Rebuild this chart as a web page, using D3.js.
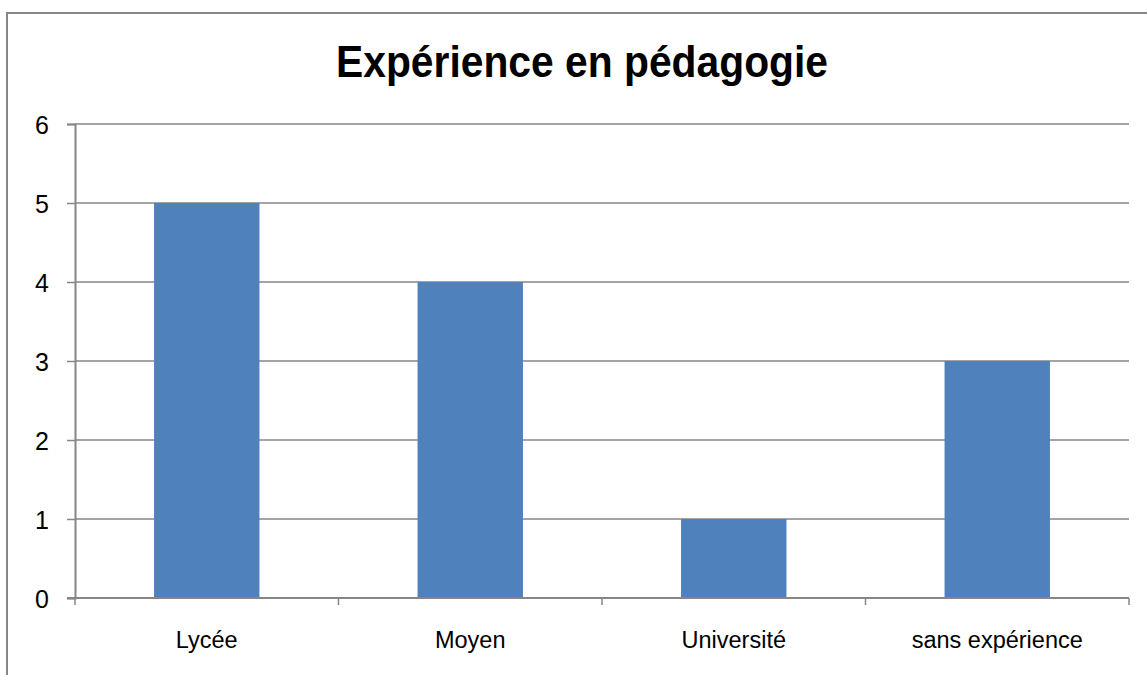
<!DOCTYPE html>
<html>
<head>
<meta charset="utf-8">
<script src="https://cdn.jsdelivr.net/npm/d3@7"></script>
<style>
  body { margin: 0; background: #fff; }
  svg { display: block; }
</style>
</head>
<body>
<div id="chart"></div>
<script>
// données du graphique
const categories = ["Lycée", "Moyen", "Université", "sans expérience"];
const values = [5, 4, 1, 3];
const yTicks = [0, 1, 2, 3, 4, 5, 6];
const titre = "Expérience en pédagogie";

const width = 1147, height = 675;
const margin = { left: 75, right: 18, top: 124, bottom: 77 };

const svg = d3.select("#chart").append("svg")
  .attr("width", width)
  .attr("height", height);

// cadre du graphique
svg.append("rect")
  .attr("x", 7).attr("y", 13)
  .attr("width", width + 10).attr("height", height + 10)
  .style("fill", "none")
  .style("stroke", "#868686")
  .style("stroke-width", 2);

const x = d3.scaleBand()
  .domain(categories)
  .range([margin.left, width - margin.right])
  .paddingInner(0.6)
  .paddingOuter(0.3);

const y = d3.scaleLinear()
  .domain([0, 6])
  .range([height - margin.bottom, margin.top]);

// lignes de grille
svg.append("g")
  .selectAll("line")
  .data(yTicks.filter(d => d > 0))
  .enter().append("line")
  .attr("x1", margin.left).attr("x2", width - margin.right)
  .attr("y1", d => y(d)).attr("y2", d => y(d))
  .style("stroke", "#868686")
  .style("stroke-width", 1.5);

// barres
svg.append("g")
  .selectAll("rect")
  .data(values)
  .enter().append("rect")
  .attr("x", (d, i) => x(categories[i]))
  .attr("width", x.bandwidth())
  .attr("y", d => y(d))
  .attr("height", d => y(0) - y(d))
  .style("fill", "#4F81BD");

// axe Y
const yAxis = svg.append("g")
  .attr("transform", `translate(${margin.left},0)`)
  .call(d3.axisLeft(y).tickValues(yTicks).tickSize(8).tickPadding(18).tickFormat(d3.format("d")));
yAxis.attr("font-size", null).attr("font-family", null);
yAxis.select(".domain").style("stroke", "#868686").style("stroke-width", 2);
yAxis.selectAll(".tick line").style("stroke", "#868686").style("stroke-width", 1.5);
yAxis.selectAll("text")
  .attr("dy", "0.36em")
  .style("font-family", "'Liberation Sans', Arial, sans-serif")
  .style("font-size", "25px")
  .style("fill", "#000");

// axe X, graduations entre les catégories
const xAxisG = svg.append("g")
  .attr("transform", `translate(0,${y(0)})`);
xAxisG.append("line")
  .attr("x1", margin.left - 8).attr("x2", width - margin.right)
  .style("stroke", "#868686").style("stroke-width", 2);
const sepX = i => margin.left + i * x.step();
xAxisG.selectAll(".sep")
  .data(d3.range(categories.length + 1))
  .enter().append("line")
  .attr("x1", sepX).attr("x2", sepX)
  .attr("y1", 0).attr("y2", 7)
  .style("stroke", "#868686").style("stroke-width", 1.5);
xAxisG.selectAll(".lab")
  .data(categories)
  .enter().append("text")
  .attr("x", d => x(d) + x.bandwidth() / 2)
  .attr("y", 50)
  .attr("text-anchor", "middle")
  .style("font-family", "'Liberation Sans', Arial, sans-serif")
  .style("font-size", "23.5px")
  .style("fill", "#000")
  .text(d => d);

// titre
svg.append("text")
  .attr("x", 582)
  .attr("y", 77)
  .attr("text-anchor", "middle")
  .attr("textLength", 492)
  .attr("lengthAdjust", "spacingAndGlyphs")
  .style("font-family", "'Liberation Sans', Arial, sans-serif")
  .style("font-weight", "bold")
  .style("font-size", "44px")
  .style("fill", "#000")
  .text(titre);
</script>
</body>
</html>
